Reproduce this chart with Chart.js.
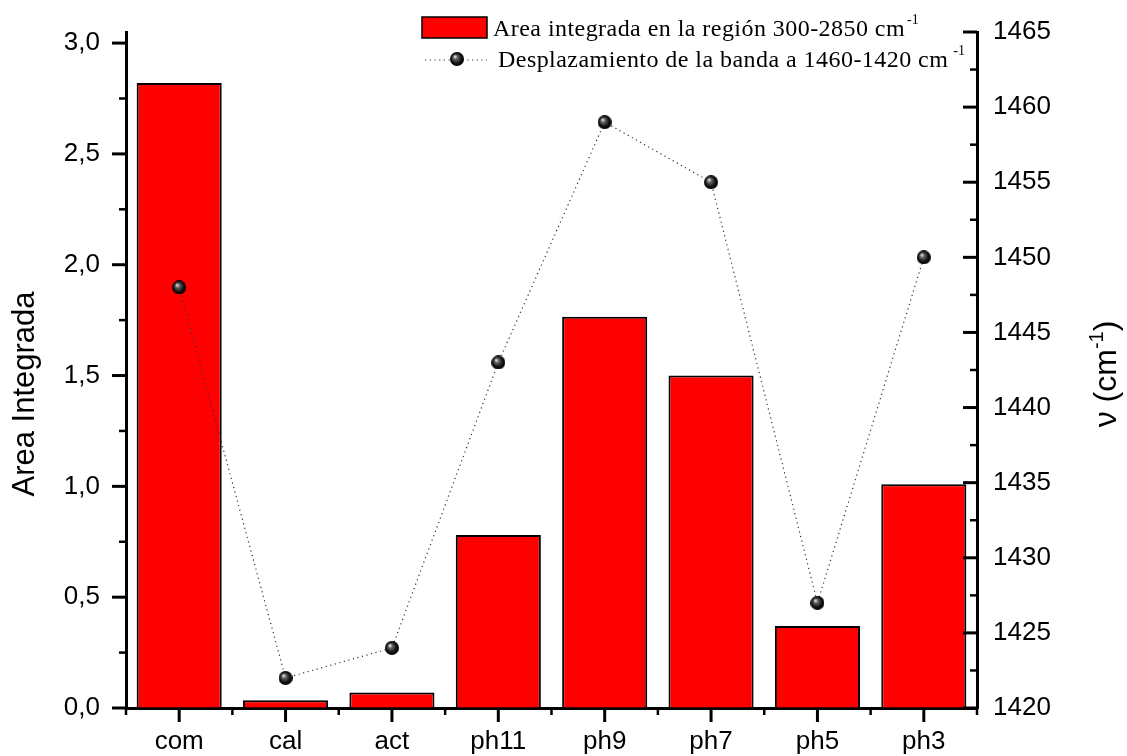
<!DOCTYPE html>
<html>
<head>
<meta charset="utf-8">
<script src="https://cdn.jsdelivr.net/npm/chart.js@4"></script>
<style>
  body { margin: 0; background: #fff; }
  canvas { display: block; }
</style>
</head>
<body>
<canvas id="areaChart" width="1127" height="756"></canvas>
<script>
const muestras = ['com', 'cal', 'act', 'ph11', 'ph9', 'ph7', 'ph5', 'ph3']
const areaIntegrada = [2.82, 0.035, 0.07, 0.78, 1.765, 1.50, 0.37, 1.01]
const desplazamiento = [1448, 1422, 1424, 1443, 1459, 1455, 1427, 1450]

const barLabel = 'Area integrada en la región 300-2850 cm'
const lineLabel = 'Desplazamiento de la banda a 1460-1420 cm'

// little black sphere used as the point marker
const makeSphere = (r) => {
  const c = document.createElement('canvas')
  c.width = r * 2
  c.height = r * 2
  const g = c.getContext('2d')
  const grad = g.createRadialGradient(r * 0.7, r * 0.65, 0.5, r, r, r)
  grad.addColorStop(0, '#e0e0e0')
  grad.addColorStop(0.25, '#666')
  grad.addColorStop(0.7, '#111')
  grad.addColorStop(1, '#000')
  g.fillStyle = grad
  g.beginPath()
  g.arc(r, r, r, 0, Math.PI * 2)
  g.fill()
  return c
}
const sphere = makeSphere(7)

const sansFont = '"Liberation Sans", Arial, sans-serif'
const serifFont = '"Liberation Serif", "Times New Roman", serif'

// ticks: major + minor, left/bottom outward, right inward
const tickMarks = {
  id: 'tickMarks',
  afterDraw(chart) {
    const ctx = chart.ctx
    const {left, right, bottom} = chart.chartArea
    const y = chart.scales.y
    const y1 = chart.scales.y1
    const x = chart.scales.x
    ctx.save()
    ctx.strokeStyle = '#000'

    const drawY = (scale, xAxis, dir) => {
      const vals = scale.ticks.map(t => t.value)
      vals.forEach((v, i) => {
        const py = scale.getPixelForValue(v)
        ctx.lineWidth = 3
        ctx.beginPath(); ctx.moveTo(xAxis, py); ctx.lineTo(xAxis + dir * 14, py); ctx.stroke()
        if (i < vals.length - 1) {
          const pm = scale.getPixelForValue((v + vals[i + 1]) / 2)
          ctx.lineWidth = 2.5
          ctx.beginPath(); ctx.moveTo(xAxis, pm); ctx.lineTo(xAxis + dir * 7, pm); ctx.stroke()
        }
      })
    }
    drawY(y, left, -1)
    drawY(y1, right, -1)

    muestras.forEach((m, i) => {
      const px = x.getPixelForValue(i)
      ctx.lineWidth = 3
      ctx.beginPath(); ctx.moveTo(px, bottom); ctx.lineTo(px, bottom + 14); ctx.stroke()
    })
    for (let i = 0; i <= muestras.length; i++) {
      const px = x.getPixelForValue(i - 0.5)
      ctx.lineWidth = 2.5
      ctx.beginPath(); ctx.moveTo(px, bottom); ctx.lineTo(px, bottom + 7); ctx.stroke()
    }
    ctx.restore()
  }
}

// axis titles and the legend (they need superscripts)
const titlesAndLegend = {
  id: 'titlesAndLegend',
  afterDraw(chart) {
    const ctx = chart.ctx
    ctx.save()
    ctx.fillStyle = '#000'

    // left title
    ctx.save()
    ctx.translate(25, 394)
    ctx.rotate(-Math.PI / 2)
    ctx.font = '31px ' + sansFont
    ctx.textAlign = 'center'
    ctx.textBaseline = 'middle'
    ctx.fillText('Area Integrada', 0, 0)
    ctx.restore()

    // right title: ν (cm^-1)
    ctx.save()
    ctx.translate(1116, 374)
    ctx.rotate(-Math.PI / 2)
    ctx.textBaseline = 'alphabetic'
    const a = 'ν (cm'
    const sup = '-1'
    const b = ')'
    ctx.font = '32px ' + sansFont
    const wa = ctx.measureText(a).width
    const wb = ctx.measureText(b).width
    ctx.font = '20px ' + sansFont
    const ws = ctx.measureText(sup).width
    let cx = -(wa + ws + wb) / 2
    ctx.font = '32px ' + sansFont
    ctx.fillText(a, cx, 0)
    cx += wa
    ctx.font = '20px ' + sansFont
    ctx.fillText(sup, cx, -13)
    cx += ws
    ctx.font = '32px ' + sansFont
    ctx.fillText(b, cx, 0)
    ctx.restore()

    // legend
    ctx.fillStyle = '#ff0000'
    ctx.fillRect(422, 17, 65, 21)
    ctx.strokeStyle = '#000'
    ctx.lineWidth = 1.5
    ctx.strokeRect(422, 17, 65, 21)

    ctx.strokeStyle = '#333'
    ctx.lineWidth = 1.2
    ctx.setLineDash([1.2, 3.5])
    ctx.beginPath(); ctx.moveTo(425, 60); ctx.lineTo(487, 60); ctx.stroke()
    ctx.setLineDash([])
    ctx.drawImage(sphere, 457 - 7, 59 - 7)

    ctx.fillStyle = '#000'
    ctx.textBaseline = 'alphabetic'
    ctx.textAlign = 'left'
    const legendText = (txt, x0, base, gap) => {
      ctx.font = '24px ' + serifFont
      ctx.letterSpacing = '0.45px'
      ctx.fillText(txt, x0, base)
      const w = ctx.measureText(txt).width
      ctx.letterSpacing = '0px'
      ctx.font = '14px ' + serifFont
      ctx.fillText('-1', x0 + w + gap, base - 12)
    }
    legendText(barLabel, 493, 36, 2)
    legendText(lineLabel, 498, 67, 5)
    ctx.restore()
  }
}

const commaFmt = (v) => v.toFixed(1).replace('.', ',')

// keep the plot box where the reference has it
const noPad = (scale) => {
  scale.paddingTop = 0
  scale.paddingBottom = 0
}

const chartData = {
  labels: muestras,
  datasets: [
    {
      type: 'line',
      label: lineLabel,
      data: desplazamiento,
      yAxisID: 'y1',
      borderColor: '#333',
      borderWidth: 1.2,
      borderDash: [1.2, 3.5],
      pointStyle: sphere,
      pointRadius: 7,
      tension: 0,
      order: 0
    },
    {
      type: 'bar',
      label: barLabel,
      data: areaIntegrada,
      yAxisID: 'y',
      backgroundColor: '#ff0000',
      borderColor: '#000',
      borderWidth: 2,
      barPercentage: 0.8,
      categoryPercentage: 1,
      order: 1
    }
  ]
}

const config = {
  data: chartData,
  options: {
    responsive: false,
    animation: false,
    layout: { padding: { top: 32, left: 0, right: 0, bottom: 0 } },
    plugins: {
      legend: { display: false },
      tooltip: { enabled: false }
    },
    scales: {
      x: {
        type: 'category',
        offset: true,
        grid: { display: true, drawOnChartArea: false, drawTicks: false },
        border: { display: true, color: '#000', width: 3 },
        ticks: {
          color: '#000',
          padding: 18,
          font: { family: sansFont, size: 26 },
          maxRotation: 0
        },
        afterFit: (scale) => {
          scale.height = 48
          scale.paddingLeft = 0
          scale.paddingRight = 0
        }
      },
      y: {
        type: 'linear',
        position: 'left',
        min: 0,
        max: 3.05,
        grid: { display: true, drawOnChartArea: false, drawTicks: false },
        border: { display: true, color: '#000', width: 3 },
        ticks: {
          stepSize: 0.5,
          includeBounds: false,
          color: '#000',
          padding: 26,
          font: { family: sansFont, size: 26 },
          callback: commaFmt
        },
        afterFit: (scale) => { scale.width = 126; noPad(scale) }
      },
      y1: {
        type: 'linear',
        position: 'right',
        min: 1420,
        max: 1465,
        grid: { display: true, drawOnChartArea: false, drawTicks: false },
        border: { display: true, color: '#000', width: 3 },
        ticks: {
          stepSize: 5,
          color: '#000',
          padding: 16,
          font: { family: sansFont, size: 26 },
          callback: (v) => String(v)
        },
        afterFit: (scale) => { scale.width = 150; noPad(scale) }
      }
    }
  },
  plugins: [tickMarks, titlesAndLegend]
}

const areaChart = new Chart(document.getElementById('areaChart'), config)
</script>
</body>
</html>
